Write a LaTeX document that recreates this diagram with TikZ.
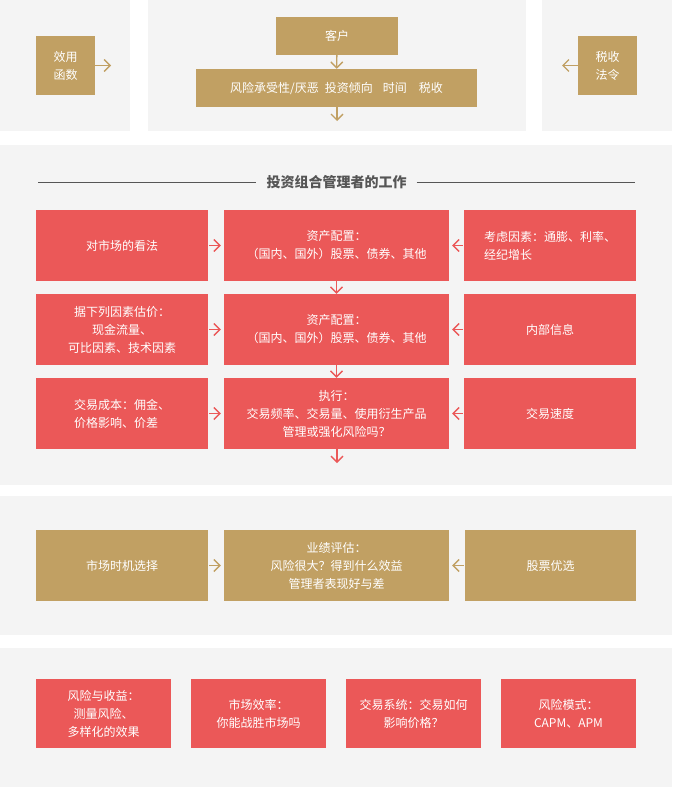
\documentclass[tikz,border=0pt]{standalone}
\usepackage{fontspec}
\setmainfont{Noto Sans CJK SC}
\usepackage{tikz}
\usetikzlibrary{arrows.meta}
\definecolor{gold}{HTML}{C1A063}
\definecolor{coral}{HTML}{EB5858}
\definecolor{panel}{HTML}{F4F4F4}
\definecolor{rule}{HTML}{555555}
\tikzset{
  box/.style={fill=#1,text=white,inner sep=0pt,align=center,
    font=\fontsize{12}{18}\selectfont},
  goldbox/.style={box=gold},
  redbox/.style={box=coral},
  link/.style={draw=#1,line width=1.4pt,-{Straight Barb[length=6pt,width=12pt]}},
}
\def\pane#1#2{\fill[panel] (#1) rectangle (#2);}
\def\garr{\draw[link=gold]}
\def\rarr{\draw[link=coral]}

\begin{document}
\begin{tikzpicture}[x=1pt,y=-1pt]
  \useasboundingbox[fill=white] (0,0) rectangle (672,787);
  \pane{0,0}{130,131}
  \pane{148,0}{526,131}
  \pane{542,0}{672,131}
  \pane{0,145}{672,485}
  \pane{0,496}{672,635}
  \pane{0,648}{672,787}

  % client and constraints
  \node[goldbox,minimum width=59pt,minimum height=59pt] (util) at (65.5,65.5) {效用\\函数};
  \node[goldbox,minimum width=122pt,minimum height=38pt] (client) at (337,36) {客户};
  \node[goldbox,minimum width=281pt,minimum height=38pt] (pref) at (336.5,88)
    {风险承受性/厌恶\hspace{6pt}投资倾向\hspace{10pt}时间\hspace{12pt}税收};
  \node[goldbox,minimum width=59pt,minimum height=59pt] (law) at (607.5,65.5) {税收\\法令};
  \coordinate (utilend) at (111,65.5);
  \coordinate (lawend) at (562,65.5);
  \coordinate (prefend) at (337,121);
  \garr (util.east) -- (utilend);
  \garr (law.west) -- (lawend);
  \garr (client) -- (pref);
  \garr (pref.south -| prefend) -- (prefend);

  % manager's work
  \node[font=\fontsize{14}{16}\selectfont\bfseries,text=rule,inner xsep=10pt] (title) at (336.5,182) {投资组合管理者的工作};
  \coordinate (ruleL) at (38,182);
  \coordinate (ruleR) at (635,182);
  \draw[rule,line width=0.8pt] (ruleL) -- (title.west) (title.east) -- (ruleR);

  \node[redbox,minimum width=172pt,minimum height=71pt] (view) at (122,245.5) {对市场的看法};
  \node[redbox,minimum width=225pt,minimum height=71pt] (alloca) at (336.5,245.5) {资产配置：\\（国内、国外）股票、债券、其他};
  \node[redbox,minimum width=172pt,minimum height=71pt,align=left] (macro) at (550,245.5) {考虑因素：通膨、利率、\\经纪增长};

  \node[redbox,minimum width=172pt,minimum height=71pt] (value) at (122,329.5) {据下列因素估价：\\现金流量、\\可比因素、技术因素};
  \node[redbox,minimum width=225pt,minimum height=71pt] (allocb) at (336.5,329.5) {资产配置：\\（国内、国外）股票、债券、其他};
  \node[redbox,minimum width=172pt,minimum height=71pt] (inside) at (550,329.5) {内部信息};

  \node[redbox,minimum width=172pt,minimum height=71pt,align=left] (cost) at (122,413.5) {交易成本：佣金、\\价格影响、价差};
  \node[redbox,minimum width=225pt,minimum height=71pt] (exec) at (336.5,413.5) {执行：\\交易频率、交易量、使用衍生产品\\管理或强化风险吗？};
  \node[redbox,minimum width=172pt,minimum height=71pt] (speed) at (550,413.5) {交易速度};
  \coordinate (execend) at (337,463);

  \foreach \a/\b in {view/alloca,value/allocb,cost/exec}
    \rarr[shorten <=1pt,shorten >=3pt] (\a) -- (\b);
  \foreach \a/\b in {macro/alloca,inside/allocb,speed/exec}
    \rarr[shorten <=1pt,shorten >=3pt] (\a) -- (\b);
  \rarr (alloca) -- (allocb);
  \rarr (allocb) -- (exec);
  \rarr (exec.south -| execend) -- (execend);

  % evaluation
  \node[goldbox,minimum width=172pt,minimum height=71pt] (timing) at (122,565.5) {市场时机选择};
  \node[goldbox,minimum width=225pt,minimum height=71pt] (perf) at (336.5,565.5) {业绩评估：\\风险很大？得到什么效益\\管理者表现好与差};
  \node[goldbox,minimum width=171pt,minimum height=71pt] (picking) at (550.5,565.5) {股票优选};
  \garr[shorten <=1pt,shorten >=3pt] (timing) -- (perf);
  \garr[shorten <=1pt,shorten >=3pt] (picking) -- (perf);

  % topics
  \node[redbox,minimum width=135pt,minimum height=69pt] (risk) at (103.5,713.5) {风险与收益：\\测量风险、\\多样化的效果};
  \node[redbox,minimum width=135pt,minimum height=69pt] (eff) at (258.5,713.5) {市场效率：\\你能战胜市场吗};
  \node[redbox,minimum width=135pt,minimum height=69pt] (sys) at (413.5,713.5) {交易系统：交易如何\\影响价格？};
  \node[redbox,minimum width=135pt,minimum height=69pt] (model) at (568.5,713.5) {风险模式：\\CAPM、APM};
\end{tikzpicture}
\end{document}
